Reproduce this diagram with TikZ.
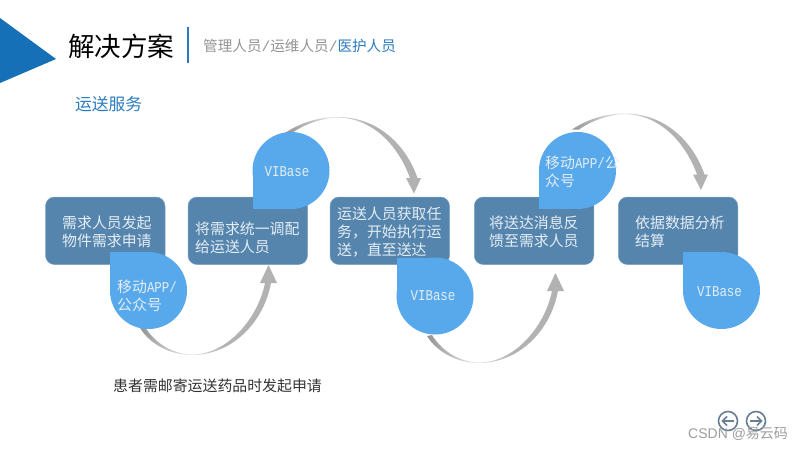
\documentclass[tikz,border=0pt]{standalone}
\usepackage{fontspec}
\setmainfont{Noto Sans CJK SC}
\newfontfamily\lat{Liberation Mono}
\newfontfamily\latn[FakeStretch=0.83]{Liberation Mono}
\newfontfamily\wm{Liberation Sans}
\definecolor{boxc}{HTML}{5585AD}
\definecolor{dropc}{HTML}{58A9EC}
\definecolor{swc}{HTML}{B2B2B2}
\definecolor{bluet}{HTML}{2A7CC0}
\definecolor{tri}{HTML}{1570B8}
\definecolor{icon}{HTML}{6B7F94}
\definecolor{inkt}{HTML}{E4EDF5}
\pgfdeclarehorizontalshading{swshade}{100bp}{color(0bp)=(black!42); color(25bp)=(black!42); color(42bp)=(black!10); color(56bp)=(black!30); color(75bp)=(black!30); color(100bp)=(black!30)}
\tikzset{
  x=1pt,y=-1pt,
  stepbox/.style={fill=boxc,draw=boxc!75!white,line width=.5pt,rounded corners=9pt,minimum height=67.5pt,minimum width=119.5pt,inner sep=0pt},
  lab/.style={anchor=west,inner sep=0pt,align=left,text=inkt,font=\fontsize{14.9}{18}\selectfont},
  vib/.style={inner sep=0pt,text=inkt,font=\fontsize{15}{15}\selectfont\latn},
  plain/.style={anchor=west,inner sep=0pt},
  swoosh/.style={shading=swshade},
}
\newcommand{\ltn}[1]{{\fontsize{15}{15}\selectfont\latn #1}}
\newcommand{\dropTL}[2]{\fill[dropc] (#1,#2) circle (38.5);\fill[dropc] (#1-38.5,#2-38.5) rectangle (#1,#2);}
\newcommand{\dropBL}[2]{\fill[dropc] (#1,#2) circle (38.5);\fill[dropc] (#1-38.5,#2+38.5) rectangle (#1,#2);}
\newcommand{\swUp}{\shade[swoosh] (140,328) .. controls (150,344) and (170,355) .. (192,355) .. controls (230,355) and (263,325) .. (271,283) -- (277,283) -- (268.5,265) -- (260,283) -- (265,283) .. controls (258,318) and (228,354.3) .. (192,354.6) .. controls (172,354) and (155,343) .. (145,327) -- cycle;}
\newcommand{\swDown}{\shade[swoosh] (285,133) .. controls (300,123) and (318,117) .. (338,117) .. controls (375,117) and (405,142) .. (417.5,178) -- (421,178) -- (414,193.5) -- (406,178) -- (410,178) .. controls (398,145) and (372,118) .. (338,117.6) .. controls (322,118) and (305,124) .. (292,133) -- cycle;}
\begin{document}
\begin{tikzpicture}
\useasboundingbox (0,0) rectangle (800,450);
\fill[white] (0,0) rectangle (800,450);
% header
\fill[tri] (0,18) -- (56,59) -- (0,83) -- cycle;
\node[plain,font=\fontsize{26.5}{30}\selectfont] (title) at (68,46) {解决方案};
\draw[bluet,line width=1.5pt] (188,27) -- (188,63);
\node[plain,font=\fontsize{14.6}{18}\selectfont,text=black!42] (sub) at (203,46) {管理人员{\lat /}运维人员{\lat /}\textcolor{bluet}{医护人员}};
\node[plain,font=\fontsize{16.75}{20}\selectfont,text=bluet] (sec) at (75,104) {运送服务};
% boxes
\node[stepbox] (b1) at (105.25,230.75) {};
\node[stepbox] (b2) at (247.75,230.75) {};
\node[stepbox] (b3) at (389.75,230.75) {};
\node[stepbox] (b4) at (534,230.75) {};
\node[stepbox] (b5) at (678,230.75) {};
% swooshes
\swUp
\swDown
\begin{scope}[shift={(287,8)}]\swUp\end{scope}
\begin{scope}[shift={(287,-3.5)}]\swDown\end{scope}
% drops
\dropTL{148.5}{290.5}
\dropBL{291}{170.5}
\dropTL{435}{296}
\dropBL{577.5}{170.5}
\dropTL{721.5}{290.5}
% texts
\node[lab] (t1) at (62,232) {需求人员发起\\物件需求申请};
\node[lab] (t2) at (195,237.5) {将需求统一调配\\给运送人员};
\node[lab] (t3) at (337,232) {运送人员获取任\\务，开始执行运\\送，直至送达};
\node[lab] (t4) at (489,232) {将送达消息反\\馈至需求人员};
\node[lab] (t5) at (635,232) {依据数据分析\\结算};
\node[lab] (d1) at (117,296) {移动\ltn{APP/}\\公众号};
\node[vib] (d2) at (287,172) {VIBase};
\node[vib] (d3) at (433,296) {VIBase};
\node[lab] (d4) at (545,172) {移动\ltn{APP/}公\\众号};
\node[vib] (d5) at (719.5,291.5) {VIBase};
\node[plain,font=\fontsize{14.9}{18}\selectfont,text=black!80] (cap) at (113,386) {患者需邮寄运送药品时发起申请};
% nav icons
\node[draw=icon,line width=1.6pt,circle,minimum size=19pt,inner sep=0pt] (prev) at (728,421) {};
\node[draw=icon,line width=1.6pt,circle,minimum size=19pt,inner sep=0pt] (next) at (756,421) {};
\draw[icon,line width=1.5pt] (734,421) -- (722.5,421);
\draw[icon,line width=1.5pt] (727,416.5) -- (722.5,421) -- (727,425.5);
\draw[icon,line width=1.5pt] (750,421) -- (761.5,421);
\draw[icon,line width=1.5pt] (757,416.5) -- (761.5,421) -- (757,425.5);
% watermark
\node[plain,text=black!38,font=\fontsize{14}{16}\selectfont] (wmk) at (688,434) {{\wm CSDN @}易云码};
\end{tikzpicture}
\end{document}
